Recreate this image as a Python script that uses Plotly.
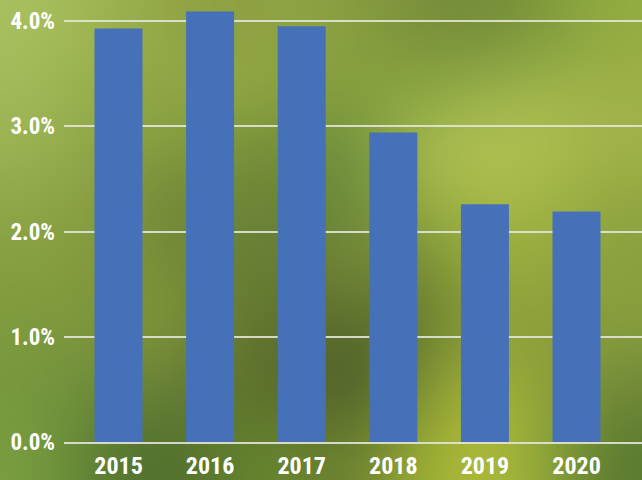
import base64, struct, zlib
import numpy as np
import plotly.graph_objects as go

# ---- data ----
years = ["2015", "2016", "2017", "2018", "2019", "2020"]
rates = [0.0393, 0.0409, 0.0395, 0.0294, 0.0226, 0.0219]
y_ticks = [0.0, 0.01, 0.02, 0.03, 0.04]

# ---- style ----
W, H = 642, 480
ML, MR, MT, MB = 64, 0, 0, 38
BAR = "#4670B8"
GRID = "rgba(225,228,215,0.9)"
FONT = "Roboto Condensed, Liberation Sans Narrow, Arial Narrow, DejaVu Sans Condensed, sans-serif"

# blurred green backdrop (colour grid, 10 cols x 8 rows)
bg_grid = [
    ["#a9c060", "#9fb650", "#94a848", "#8e9f42", "#8ea443", "#8a9e42", "#7a8f3a", "#728a38", "#7e9a3c", "#94ad40"],
    ["#a2ba58", "#98ae4c", "#8ea544", "#98ab48", "#8fa440", "#84a03c", "#8aa740", "#98b24a", "#a3b84c", "#9fb04a"],
    ["#9ab354", "#8fa648", "#869c40", "#7a9538", "#6f8a38", "#6d9040", "#a8bc50", "#b8c458", "#b0c050", "#a2b448"],
    ["#8fa648", "#8a9e40", "#6e8436", "#6e8638", "#6a8238", "#6a8a3c", "#94ac40", "#a4b844", "#a0b444", "#8ea440"],
    ["#84a040", "#82983c", "#7a9038", "#6a8234", "#627a32", "#7a8a38", "#6f8434", "#9aac3c", "#94a83e", "#8aa03e"],
    ["#7e9a3e", "#7e963c", "#84983a", "#6a7e32", "#5c6e2e", "#56682c", "#62782e", "#8a9c3a", "#8aa03c", "#889e3e"],
    ["#78983e", "#6c8c3a", "#66803a", "#5e742e", "#5a6a2c", "#485828", "#7a9034", "#b2bc38", "#8ca03a", "#6f8838"],
    ["#7a9e40", "#5e8034", "#4e6a2c", "#60802e", "#6a8830", "#6a7e30", "#9aae34", "#b5bf3a", "#90a83a", "#5a7a30"],
]


def make_bg(grid, w=214, h=160):
    g = np.array([[[int(c[i:i + 2], 16) for i in (1, 3, 5)] for c in row] for row in grid], float)
    rows, cols = g.shape[:2]
    ys = (np.arange(h) + 0.5) / h * rows - 0.5
    xs = (np.arange(w) + 0.5) / w * cols - 0.5
    ys = np.clip(ys, 0, rows - 1)
    xs = np.clip(xs, 0, cols - 1)
    y0 = np.floor(ys).astype(int); y1 = np.minimum(y0 + 1, rows - 1); fy = (ys - y0)[:, None, None]
    x0 = np.floor(xs).astype(int); x1 = np.minimum(x0 + 1, cols - 1); fx = (xs - x0)[None, :, None]
    top = g[y0][:, x0] * (1 - fx) + g[y0][:, x1] * fx
    bot = g[y1][:, x0] * (1 - fx) + g[y1][:, x1] * fx
    img = top * (1 - fy) + bot * fy
    k = 9
    for _ in range(3):
        pad = np.pad(img, ((k, k), (0, 0), (0, 0)), mode="edge")
        c = np.cumsum(pad, axis=0)
        c = np.concatenate([np.zeros((1,) + c.shape[1:]), c], axis=0)
        img = (c[2 * k + 1:] - c[:-2 * k - 1]) / (2 * k + 1)
        pad = np.pad(img, ((0, 0), (k, k), (0, 0)), mode="edge")
        c = np.cumsum(pad, axis=1)
        c = np.concatenate([np.zeros((c.shape[0], 1, 3)), c], axis=1)
        img = (c[:, 2 * k + 1:] - c[:, :-2 * k - 1]) / (2 * k + 1)
    img = np.clip(img, 0, 255).astype(np.uint8)
    raw = b"".join(b"\x00" + img[r].tobytes() for r in range(h))

    def chunk(t, d):
        return struct.pack(">I", len(d)) + t + d + struct.pack(">I", zlib.crc32(t + d) & 0xffffffff)

    png = b"\x89PNG\r\n\x1a\n" + chunk(b"IHDR", struct.pack(">IIBBBBB", w, h, 8, 2, 0, 0, 0)) \
        + chunk(b"IDAT", zlib.compress(raw, 9)) + chunk(b"IEND", b"")
    return "data:image/png;base64," + base64.b64encode(png).decode()


pw, ph = W - ML - MR, H - MT - MB

fig = go.Figure(go.Bar(x=list(range(len(years))), y=rates, marker_color=BAR,
                       marker_line_width=0, width=0.524))

fig.add_layout_image(dict(source=make_bg(bg_grid), xref="paper", yref="paper",
                          x=-ML / pw, y=1 + MT / ph, sizex=W / pw, sizey=H / ph,
                          sizing="stretch", xanchor="left", yanchor="top", layer="below"))

fig.update_layout(
    width=W, height=H,
    margin=dict(l=ML, r=MR, t=MT, b=MB, pad=0),
    paper_bgcolor="#86a040", plot_bgcolor="rgba(0,0,0,0)",
    showlegend=False,
    font=dict(family=FONT, color="white"),
)
fig.update_xaxes(
    tickmode="array", tickvals=list(range(len(years))), ticktext=years,
    range=[-0.595, 5.715], showgrid=False, zeroline=False,
    showline=True, linecolor=GRID, linewidth=2,
    tickfont=dict(size=24, family=FONT, color="white", weight="bold"),
    ticks="", ticklabelstandoff=1, automargin=False,
)
fig.update_yaxes(
    range=[0, 0.042], tickvals=y_ticks, tickformat=".1%",
    showgrid=True, gridcolor=GRID, gridwidth=2, zeroline=False, showline=False,
    tickfont=dict(size=23, family=FONT, color="white", weight="bold"),
    ticks="", ticklabelstandoff=8, automargin=False,
)

fig.write_html("out.html", config={"displayModeBar": False},
               post_script="document.body.style.margin='0';document.body.style.overflow='hidden';")
